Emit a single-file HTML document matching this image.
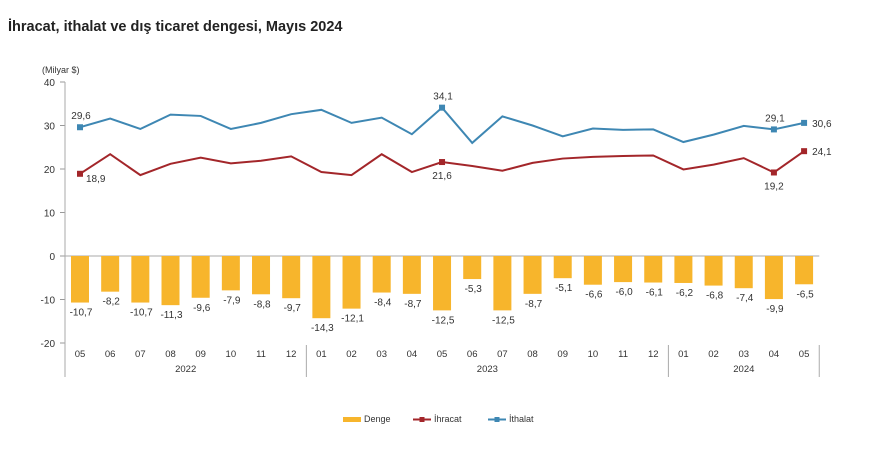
<!DOCTYPE html>
<html><head><meta charset="utf-8"><style>
body{margin:0;background:#fff;font-family:"Liberation Sans",Arial,sans-serif;}
#title{position:absolute;left:8px;top:19px;font-size:14.5px;font-weight:bold;color:#222;}
</style></head><body>
<div id="title">İhracat, ithalat ve dış ticaret dengesi, Mayıs 2024</div>
<svg id="c" width="884" height="450" style="position:absolute;left:0;top:0"></svg>
<script>
const months=["05","06","07","08","09","10","11","12","01","02","03","04","05","06","07","08","09","10","11","12","01","02","03","04","05"];
const denge=[-10.7,-8.2,-10.7,-11.3,-9.6,-7.9,-8.8,-9.7,-14.3,-12.1,-8.4,-8.7,-12.5,-5.3,-12.5,-8.7,-5.1,-6.6,-6.0,-6.1,-6.2,-6.8,-7.4,-9.9,-6.5];
const ihracat=[18.9,23.4,18.6,21.2,22.6,21.3,21.9,22.9,19.3,18.6,23.4,19.3,21.6,20.7,19.6,21.4,22.4,22.8,23.0,23.1,19.9,21.0,22.5,19.2,24.1];
const ithalat=[29.6,31.6,29.2,32.5,32.2,29.2,30.6,32.6,33.6,30.6,31.8,28.0,34.1,26.0,32.1,30.0,27.5,29.3,29.0,29.1,26.2,27.9,29.9,29.1,30.6];
const yTicks=[40,30,20,10,0,-10,-20];
const years=[{label:"2022",from:0,to:7},{label:"2023",from:8,to:19},{label:"2024",from:20,to:24}];
const ihrLabels=[0,12,23,24], ithLabels=[0,12,23,24];
const NS="http://www.w3.org/2000/svg", svg=document.getElementById('c');
const x0=65,step=30.17,xc=i=>x0+15+i*step;
const y=v=>256-v*4.35;
function el(t,a,p){const e=document.createElementNS(NS,t);for(const k in a)e.setAttribute(k,a[k]);(p||svg).appendChild(e);return e;}
function txt(s,x,yy,anchor,size,name){const t=el('text',{x:x,y:yy,'text-anchor':anchor||'middle','font-size':size||10,fill:'#333','font-family':'Liberation Sans, Arial, sans-serif'});t.textContent=s;return t;}
const fmt=v=>v.toFixed(1).replace('.',',');
txt("(Milyar $)",42,73,'start',9,'y-axis-unit');
yTicks.forEach(v=>{const t=txt(String(v),55,y(v)+4,'end',10,'y-tick-label');el('line',{x1:60,x2:x0,y1:y(v),y2:y(v),stroke:'#999'});});
el('line',{x1:x0,x2:x0,y1:y(40),y2:377,stroke:'#aaa'});
const xEnd=x0+months.length*step;
el('line',{x1:x0,x2:xEnd,y1:y(0),y2:y(0),stroke:'#aaa'});
denge.forEach((v,i)=>{const r=el('rect',{x:xc(i)-9,y:y(0),width:18,height:y(v)-y(0),fill:'#f7b52c'});
txt(fmt(v),xc(i)+1,y(v)+13,'middle',10,'bar-value');});
months.forEach((m,i)=>txt(m,xc(i),357,'middle',9.5,'x-tick-label'));
years.forEach(yr=>{const xa=x0+yr.from*step,xb=x0+(yr.to+1)*step;txt(yr.label,(xa+xb)/2,372,'middle',9.5,'year-label');
if(yr.from>0)el('line',{x1:xa,x2:xa,y1:345,y2:377,stroke:'#aaa'});});
el('line',{x1:xEnd,x2:xEnd,y1:345,y2:377,stroke:'#aaa'});
function line(data,color,name){const p=el('polyline',{points:data.map((v,i)=>xc(i)+','+y(v)).join(' '),fill:'none',stroke:color,'stroke-width':2});}
line(ithalat,'#3e87b3','line-ithalat');line(ihracat,'#a3262a','line-ihracat');
ithLabels.forEach(i=>{el('rect',{x:xc(i)-3,y:y(ithalat[i])-3,width:6,height:6,fill:'#3e87b3'});
if(i==24)txt(fmt(ithalat[i]),xc(i)+8,y(ithalat[i])+4,'start',10,'ithalat-value');else txt(fmt(ithalat[i]),xc(i)+1,y(ithalat[i])-8,'middle',10,'ithalat-value');});
ihrLabels.forEach(i=>{el('rect',{x:xc(i)-3,y:y(ihracat[i])-3,width:6,height:6,fill:'#a3262a'});
if(i==24)txt(fmt(ihracat[i]),xc(i)+8,y(ihracat[i])+4,'start',10,'ihracat-value');else if(i==0)txt(fmt(ihracat[i]),xc(i)+6,y(ihracat[i])+8,'start',10,'ihracat-value');else txt(fmt(ihracat[i]),xc(i),y(ihracat[i])+17,'middle',10,'ihracat-value');});
const lg=el('g',{});
el('rect',{x:343,y:417,width:18,height:5,fill:'#f7b52c'},lg);txt("Denge",364,422,'start',9,'legend-denge');
el('line',{x1:413,x2:431,y1:419.5,y2:419.5,stroke:'#a3262a','stroke-width':2},lg);el('rect',{x:419.5,y:417,width:5,height:5,fill:'#a3262a'},lg);txt("İhracat",434,422,'start',9,'legend-ihracat');
el('line',{x1:488,x2:506,y1:419.5,y2:419.5,stroke:'#3e87b3','stroke-width':2},lg);el('rect',{x:494.5,y:417,width:5,height:5,fill:'#3e87b3'},lg);txt("İthalat",509,422,'start',9,'legend-ithalat');
</script>
</body></html>
